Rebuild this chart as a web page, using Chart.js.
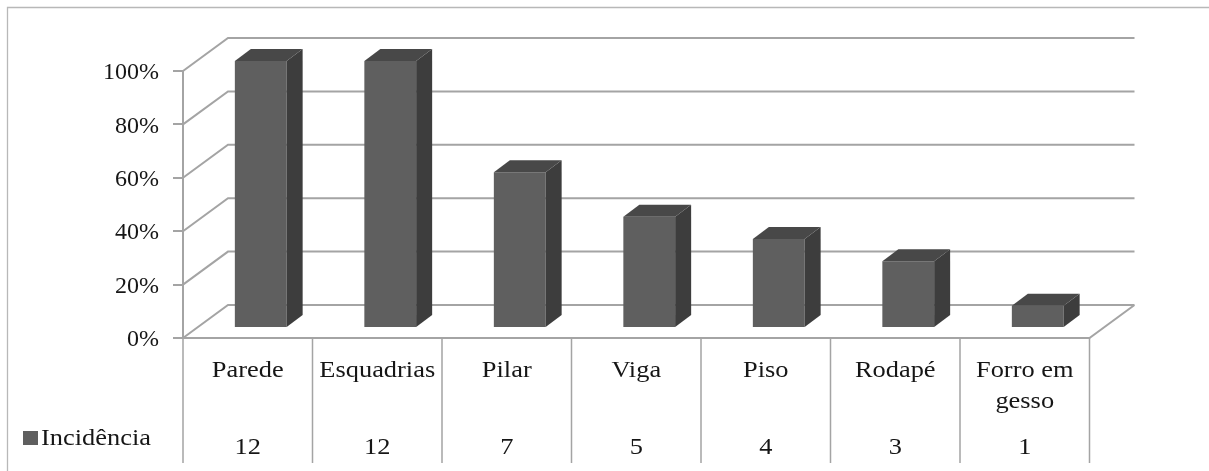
<!DOCTYPE html>
<html lang="pt">
<head>
<meta charset="utf-8">
<title>Incidência</title>
<style>
html, body { margin: 0; padding: 0; background: #fff; }
canvas { display: block; }
.pre { font-family: "Liberation Serif"; position: absolute; left: -9999px; }
</style>
<script src="https://cdn.jsdelivr.net/npm/chart.js@4.4.1/dist/chart.umd.min.js"></script>
</head>
<body>
<span class="pre">Incidência 0123456789%</span>
<canvas id="grafico" width="1209" height="471"></canvas>
<script>
// Dados
const categorias = ['Parede', 'Esquadrias', 'Pilar', 'Viga', 'Piso', 'Rodapé', ['Forro em', 'gesso']];
const incidencia = [12, 12, 7, 5, 4, 3, 1];
const totalCasos = 12;
const nomeSerie = 'Incidência';
const marcasY = [0, 20, 40, 60, 80, 100];

// percentual de cada item em relação ao total
const percentuais = incidencia.map(n => n / totalCasos * 100);

// Aparência
const FONTE = '"Liberation Serif", "Times New Roman", Times, serif';
const COR_TEXTO = '#161616';
const COR_GRADE = '#a4a4a4';
const COR_FRENTE = '#5f5f5f';
const COR_LADO = '#3d3d3d';
const COR_TOPO = '#484848';
const PROFUNDIDADE = { dx: 45, dy: -33 };   // parede do fundo
const DESLOC_BARRA = { dx: 13, dy: -10 };   // face frontal das colunas
const PROF_BARRA = { dx: 16, dy: -12 };     // espessura das colunas
const ESCALA_TEXTO = 1.1;
const BASE_TABELA = 463;

function escreve(ctx, s, x, yBase, align) {
  ctx.save();
  ctx.translate(x, yBase);
  ctx.scale(ESCALA_TEXTO, 1);
  ctx.textAlign = align || 'center';
  ctx.textBaseline = 'alphabetic';
  ctx.fillText(s, 0, 0);
  ctx.restore();
}

const cena3d = {
  id: 'cena3d',
  beforeDraw(chart) {
    const { ctx, width, height } = chart;
    ctx.save();
    ctx.fillStyle = '#fff';
    ctx.fillRect(0, 0, width, height);
    // moldura da área do gráfico
    ctx.strokeStyle = '#b8b8b8';
    ctx.lineWidth = 1.3;
    ctx.beginPath();
    ctx.moveTo(width, 7.5);
    ctx.lineTo(7.5, 7.5);
    ctx.lineTo(7.5, height);
    ctx.stroke();
    ctx.restore();
  },
  beforeDatasetsDraw(chart) {
    const { ctx, chartArea: a, scales: { y } } = chart;
    ctx.save();
    ctx.strokeStyle = COR_GRADE;
    ctx.lineWidth = 2;
    ctx.beginPath();
    y.ticks.forEach(t => {
      const py = y.getPixelForValue(t.value);
      ctx.moveTo(a.left, py);
      ctx.lineTo(a.left + PROFUNDIDADE.dx, py + PROFUNDIDADE.dy);
      ctx.lineTo(a.right + PROFUNDIDADE.dx, py + PROFUNDIDADE.dy);
    });
    // piso
    const p0 = y.getPixelForValue(0);
    ctx.moveTo(a.left, p0);
    ctx.lineTo(a.right, p0);
    ctx.lineTo(a.right + PROFUNDIDADE.dx, p0 + PROFUNDIDADE.dy);
    ctx.stroke();
    ctx.restore();
    // a face frontal das colunas fica um pouco para dentro do piso
    ctx.save();
    ctx.translate(DESLOC_BARRA.dx, DESLOC_BARRA.dy);
  },
  afterDatasetsDraw(chart) {
    const { ctx } = chart;
    ctx.restore();
    const meta = chart.getDatasetMeta(0);
    ctx.save();
    meta.data.forEach(el => {
      const { x, y, base, width } = el.getProps(['x', 'y', 'base', 'width'], true);
      const L = x - width / 2 + DESLOC_BARRA.dx;
      const R = x + width / 2 + DESLOC_BARRA.dx;
      const T = y + DESLOC_BARRA.dy;
      const B = base + DESLOC_BARRA.dy;
      ctx.fillStyle = COR_LADO;
      ctx.beginPath();
      ctx.moveTo(R, T);
      ctx.lineTo(R + PROF_BARRA.dx, T + PROF_BARRA.dy);
      ctx.lineTo(R + PROF_BARRA.dx, B + PROF_BARRA.dy);
      ctx.lineTo(R, B);
      ctx.closePath();
      ctx.fill();
      ctx.fillStyle = COR_TOPO;
      ctx.beginPath();
      ctx.moveTo(L, T);
      ctx.lineTo(L + PROF_BARRA.dx, T + PROF_BARRA.dy);
      ctx.lineTo(R + PROF_BARRA.dx, T + PROF_BARRA.dy);
      ctx.lineTo(R, T);
      ctx.closePath();
      ctx.fill();
    });
    ctx.restore();
  },
  afterDraw(chart) {
    const { ctx, chartArea: a, scales: { x } } = chart;
    const n = categorias.length;
    const topo = a.bottom;
    ctx.save();
    // linhas verticais da tabela de dados
    ctx.strokeStyle = COR_GRADE;
    ctx.lineWidth = 1.5;
    ctx.beginPath();
    for (let i = 0; i <= n; i++) {
      let bx;
      if (i === 0) bx = a.left;
      else if (i === n) bx = a.right;
      else bx = (x.getPixelForValue(i - 1) + x.getPixelForValue(i)) / 2;
      ctx.moveTo(bx, topo);
      ctx.lineTo(bx, BASE_TABELA);
    }
    ctx.stroke();

    // rótulos e valores
    ctx.fillStyle = COR_TEXTO;
    ctx.font = '24px ' + FONTE;
    categorias.forEach((c, i) => {
      const cx = x.getPixelForValue(i);
      const linhas = Array.isArray(c) ? c : [c];
      linhas.forEach((l, k) => escreve(ctx, l, cx, 377 + k * 31));
      escreve(ctx, String(incidencia[i]), cx, 454);
    });

    // legenda da série
    ctx.fillStyle = COR_FRENTE;
    ctx.fillRect(23, 431, 15, 14);
    ctx.fillStyle = COR_TEXTO;
    escreve(ctx, nomeSerie, 41, 445, 'left');
    ctx.restore();
  }
};

function desenha() {
  new Chart(document.getElementById('grafico'), {
    type: 'bar',
    data: {
      labels: categorias,
      datasets: [{
        label: nomeSerie,
        data: percentuais,
        backgroundColor: COR_FRENTE,
        borderWidth: 0,
        barPercentage: 0.4,
        categoryPercentage: 1.0,
        clip: false
      }]
    },
    options: {
      responsive: false,
      animation: false,
      events: [],
      layout: { padding: { left: 0, top: 71, right: 119.5, bottom: 133 } },
      plugins: { legend: { display: false }, tooltip: { enabled: false } },
      scales: {
        x: { display: false, offset: true },
        y: {
          min: 0,
          max: 100,
          afterFit(s) { s.width = 183; },
          afterBuildTicks(s) { s.ticks = marcasY.map(v => ({ value: v })); },
          border: { display: true, color: COR_GRADE, width: 2 },
          grid: { drawOnChartArea: false, drawTicks: true, tickLength: 10, color: COR_GRADE, lineWidth: 2 },
          ticks: {
            padding: 14,
            labelOffset: 2,
            color: COR_TEXTO,
            font: { family: FONTE, size: 24 },
            callback: v => v + '%'
          }
        }
      }
    },
    plugins: [cena3d]
  });
}

if (document.fonts && document.fonts.load) {
  document.fonts.load('24px "Liberation Serif"').then(desenha, desenha);
} else {
  desenha();
}
</script>
</body>
</html>
